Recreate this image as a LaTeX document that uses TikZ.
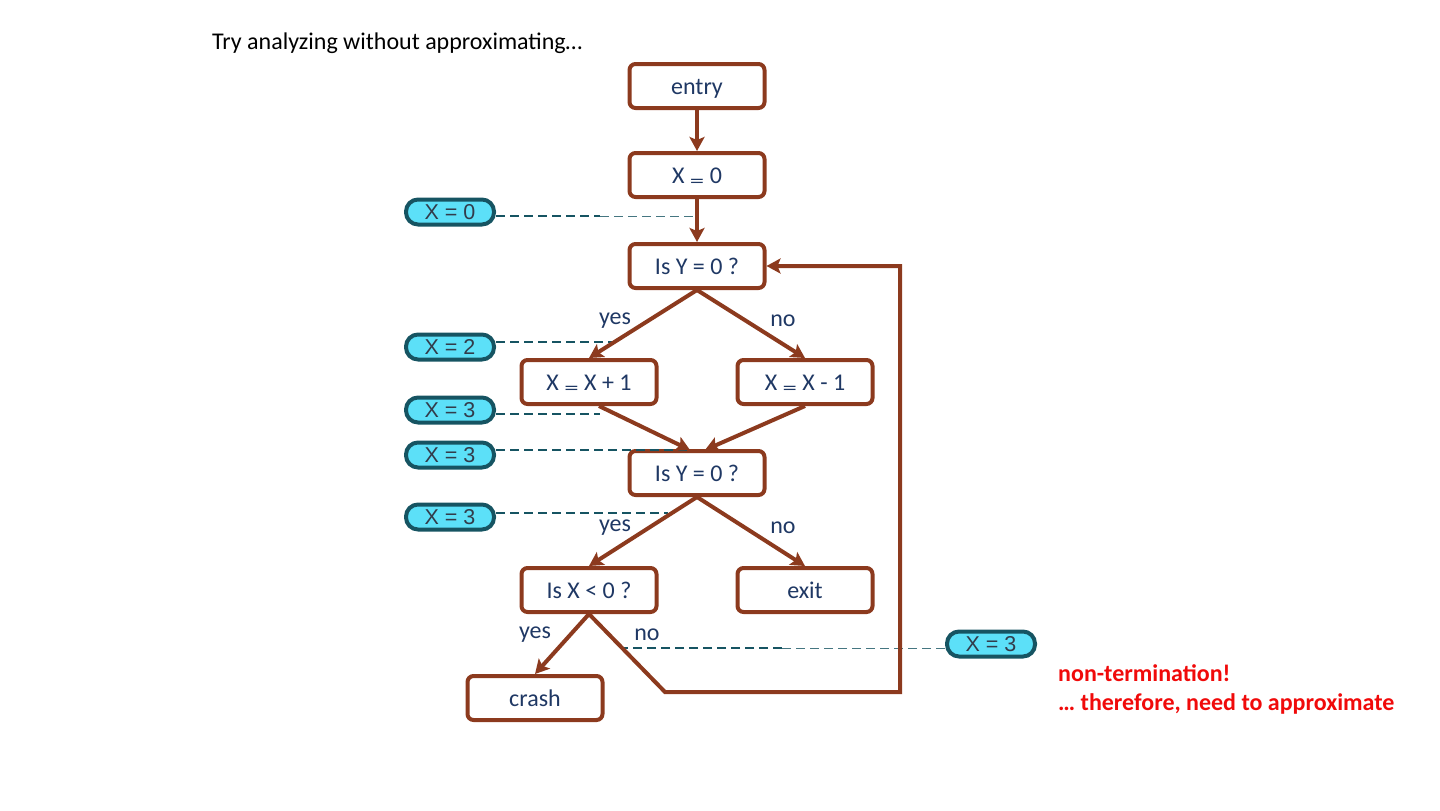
\documentclass[tikz,border=0pt]{standalone}
\usepackage{fontspec}
\usepackage{graphicx}
\setmainfont{Carlito}
\newfontfamily\pillfont{Liberation Sans}
\usetikzlibrary{arrows.meta}
\definecolor{brn}{RGB}{140,58,30}
\definecolor{txt}{RGB}{31,56,100}
\definecolor{pillfill}{RGB}{92,224,248}
\definecolor{pillborder}{RGB}{22,84,98}
\definecolor{pilltxt}{RGB}{50,60,75}
\definecolor{redtxt}{RGB}{240,10,10}
\newcommand\asg{\raisebox{-0.42ex}{\scalebox{1.2}[0.8]{=}}}
\tikzset{
  box/.style={draw=brn, line width=4pt, rounded corners=6pt, fill=white,
    minimum width=135pt, minimum height=44pt, inner sep=0pt,
    text height=16pt, text depth=0pt,
    text=txt, font=\fontsize{24}{28}\selectfont},
  pill/.style={draw=pillborder, line width=4pt, rounded corners=12pt, fill=pillfill,
    minimum width=88pt, minimum height=25pt, inner sep=0pt,
    text height=15pt, text depth=0pt,
    text=pilltxt, font=\pillfont\fontsize{21.5}{24}\selectfont},
  flow/.style={draw=brn, line width=4pt, -{Stealth[length=14pt,width=15pt,inset=3pt]}},
  dash thick/.style={draw=pillborder, line width=1.8pt, dash pattern=on 9pt off 5pt},
  dash thin/.style={draw=pillborder!80, line width=1pt, dash pattern=on 9pt off 5pt},
  lbl/.style={text=txt, font=\fontsize{24}{28}\selectfont, inner sep=0pt},
}
\begin{document}
\begin{tikzpicture}[x=1pt,y=-1pt]
\useasboundingbox (0,0) rectangle (1440,811);

\node[anchor=west, inner sep=0pt, font=\fontsize{24}{28}\selectfont] (title) at (212,43) {Try analyzing without approximating\dots};

% boxes
\node[box] (entry) at (697,86) {entry};
\node[box] (init) at (697,175) {X \asg{} 0};
\node[box] (isy1) at (697,266) {Is Y = 0 ?};
\node[box] (inc) at (589,382) {X \asg{} X + 1};
\node[box] (dec) at (805,382) {X \asg{} X - 1};
\node[box] (isy2) at (697,473) {Is Y = 0 ?};
\node[box] (isx) at (589,590) {Is X < 0 ?};
\node[box] (exit) at (805,590) {exit};
\node[box] (crash) at (535,698) {crash};

% dashed target coordinates
\coordinate (d0m) at (600,216);
\coordinate (d0) at (697,216);
\coordinate (d2) at (612,342);
\coordinate (d3a) at (600,414);
\coordinate (d3b) at (690,450);
\coordinate (d3c) at (668,513);
\coordinate (d3d) at (620,648);
\coordinate (d3dm) at (782,648);

% pills
\node[pill] (p0) at (450,212) {X = 0};
\node[pill] (p2) at (450,347) {X = 2};
\node[pill] (p3a) at (450,410) {X = 3};
\node[pill] (p3b) at (450,455) {X = 3};
\node[pill] (p3c) at (450,517) {X = 3};
\node[pill] (p3d) at (991,644) {X = 3};

% dashed lines
\draw[dash thick] (p0.east |- d0m) -- (d0m);
\draw[dash thin] (d0m) -- (d0);
\draw[dash thick] (p2.east |- d2) -- (d2);
\draw[dash thick] (p3a.east |- d3a) -- (d3a);
\draw[dash thick] (p3b.east |- d3b) -- (d3b);
\draw[dash thick] (p3c.east |- d3c) -- (d3c);
\draw[dash thin] (p3d.west |- d3d) -- (d3dm);
\draw[dash thick] (d3dm) -- (d3d);

% arrows
\draw[flow] (entry.south) -- (init.north);
\draw[flow] (init.south) -- (isy1.north);
\draw[flow] (isy1.south) -- (inc.north);
\draw[flow] (isy1.south) -- (dec.north);
\coordinate (m1) at (690,450);
\coordinate (m2) at (705,450);
\draw[flow] ([xshift=10pt]inc.south) -- (m1);
\draw[flow] (dec.south) -- (m2);
\draw[flow] (isy2.south) -- (isx.north);
\draw[flow] (isy2.south) -- (exit.north);
\draw[flow] (isx.south) -- (crash.north);
\coordinate (c1) at (665,692);
\coordinate (c2) at (900,692);
\draw[flow, line join=miter] (isx.south) -- (c1) -- (c2) |- (isy1.east);

% labels
\node[lbl] (y1) at (615,321) {yes};
\node[lbl] (n1) at (783,321) {no};
\node[lbl] (y2) at (615,528) {yes};
\node[lbl] (n2) at (783,528) {no};
\node[lbl] (y3) at (535,635) {yes};
\node[lbl] (n3) at (647,635) {no};

\node[anchor=north west, inner sep=0pt, align=left, text=redtxt,
  font=\bfseries\fontsize{24}{29}\selectfont] (note) at (1058,664)
  {non-termination!\\\dots{} therefore, need to approximate};
\end{tikzpicture}
\end{document}
